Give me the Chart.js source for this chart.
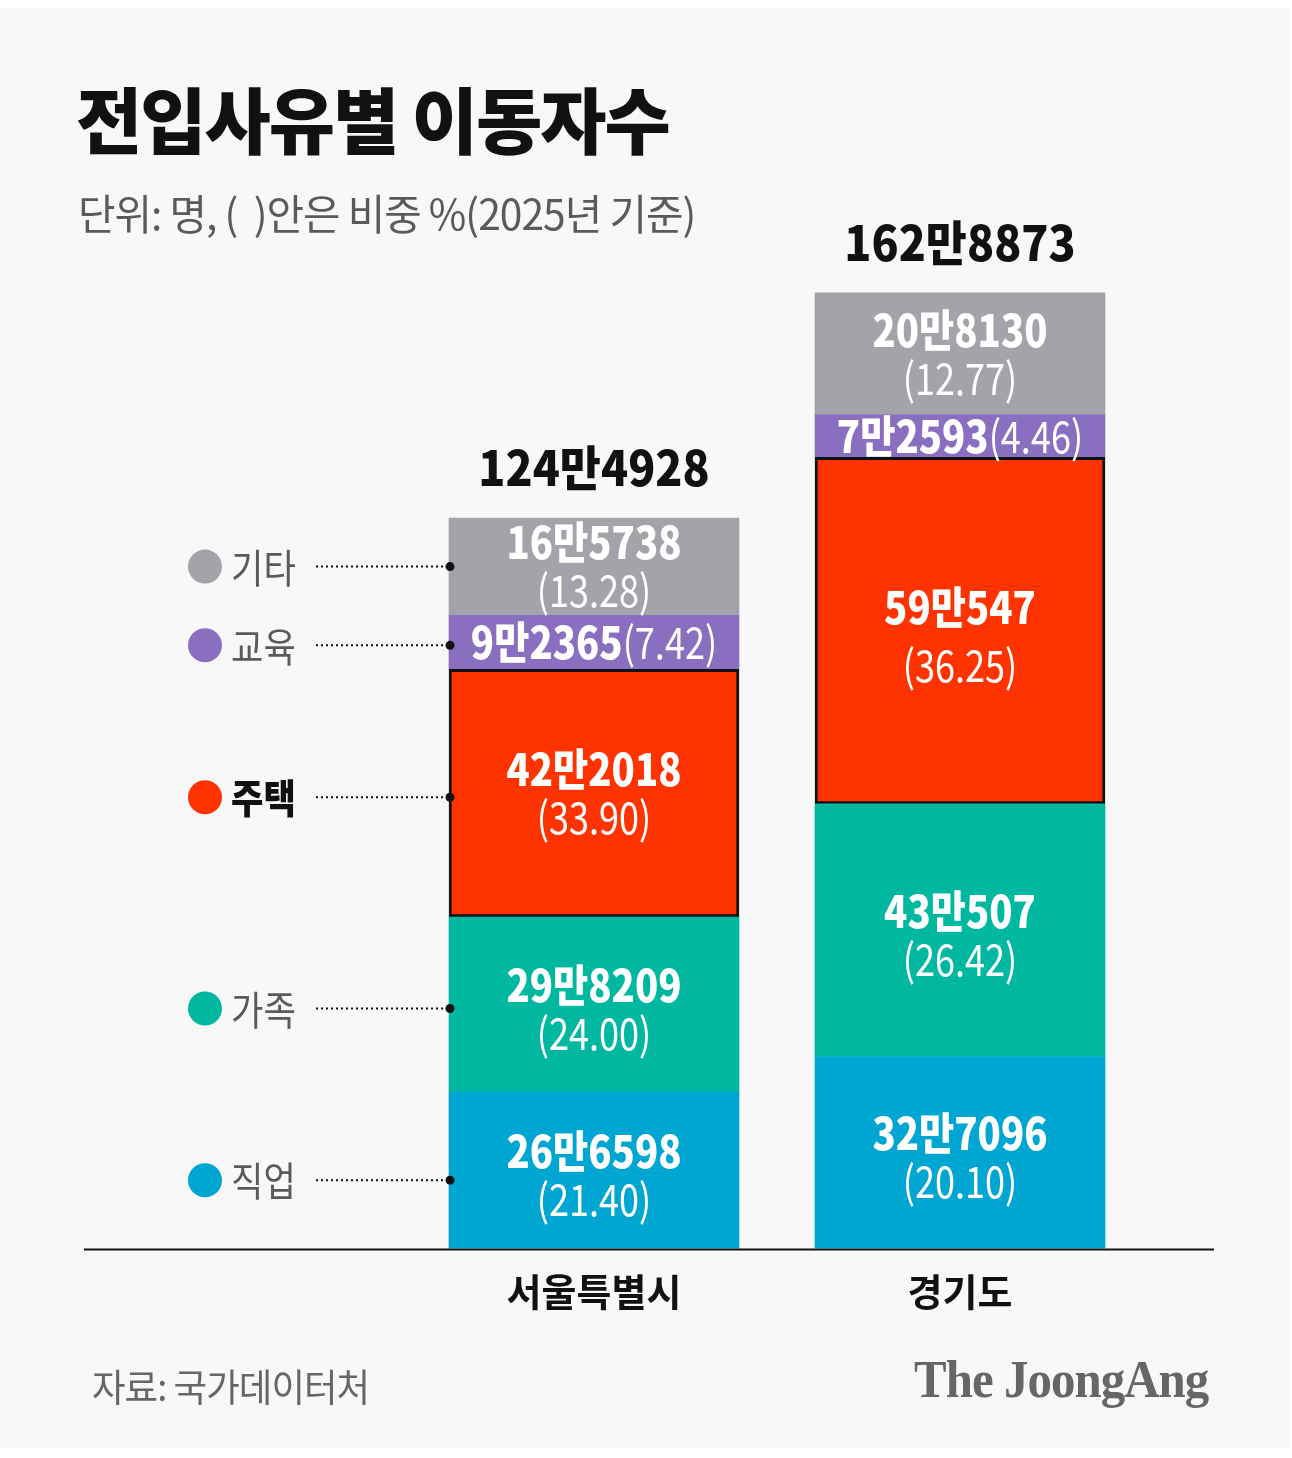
<!DOCTYPE html>
<html>
<head>
<meta charset="utf-8">
<script src="https://cdn.jsdelivr.net/npm/chart.js@4"></script>
<style>
  html, body { margin: 0; padding: 0; background: #ffffff; }
  #wrap { position: relative; width: 1292px; height: 1458px; overflow: hidden; }
  #card { position: absolute; left: 0; top: 8px; width: 1289px; height: 1440px; background: #f8f8f8; }
  #chartBox { position: absolute; left: 0; top: 0; width: 1292px; height: 1458px; }
  .txt { position: absolute; white-space: nowrap; transform-origin: left center; font-family: "Noto Sans CJK KR", "Noto Sans", sans-serif; }
  #title { left: 76px; top: 73px; font-size: 72px; font-weight: 900; color: #111; letter-spacing: -2px; transform: scaleX(1.0); line-height: 88px; }
  #subtitle { left: 78px; top: 187px; font-size: 42px; font-weight: 400; color: #5a5a5a; letter-spacing: -1px; transform: scaleX(0.97); line-height: 50px; }
  #source { left: 92px; top: 1360px; font-size: 38px; font-weight: 400; color: #666; letter-spacing: -1px; transform: scaleX(0.96); line-height: 50px; }
  #logo { left: 914px; top: 1350px; font-family: "Liberation Serif", "DejaVu Serif", serif; font-size: 52px; font-weight: 700; color: #666; letter-spacing: -1px; transform: scaleX(0.94); line-height: 60px; }
</style>
</head>
<body>
<div id="wrap">
  <div id="card"></div>
  <div id="chartBox"><canvas id="c" width="1292" height="1458"></canvas></div>
  <div class="txt" id="title">전입사유별 이동자수</div>
  <div class="txt" id="subtitle">단위: 명, (&nbsp;&nbsp;)안은 비중 %(2025년 기준)</div>
  <div class="txt" id="source">자료: 국가데이터처</div>
  <div class="txt" id="logo">The JoongAng</div>
</div>
<script>
// ---- data ----
const categories = ['서울특별시', '경기도'];
const seriesNames = ['직업', '가족', '주택', '교육', '기타'];
const jobValues = [266598, 327096];
const familyValues = [298209, 430507];
const housingValues = [422018, 590547];
const educationValues = [92365, 72593];
const otherValues = [165738, 208130];
const jobShare = ['21.40', '20.10'];
const familyShare = ['24.00', '26.42'];
const housingShare = ['33.90', '36.25'];
const educationShare = ['7.42', '4.46'];
const otherShare = ['13.28', '12.77'];
const totals = [1244928, 1628873];

// ---- styles ----
const colors = ['#00a6d2', '#00b8a0', '#ff3300', '#8a6ec0', '#a3a3aa'];
const FONT = '"Noto Sans CJK KR", "Noto Sans", sans-serif';
const legendShift = [10, 4, 4, 3, 0];

function man(v) {
  const hi = Math.floor(v / 10000);
  const lo = v % 10000;
  return (hi > 0 ? hi + '만' : '') + (lo > 0 ? String(lo) : '');
}

const valueSets = [jobValues, familyValues, housingValues, educationValues, otherValues];
const shareSets = [jobShare, familyShare, housingShare, educationShare, otherShare];

const datasets = seriesNames.map((name, i) => ({
  label: name,
  data: valueSets[i],
  backgroundColor: colors[i],
  borderColor: i === 2 ? '#111111' : colors[i],
  borderWidth: i === 2 ? 3 : 0,
  borderSkipped: false,
  barThickness: 290,
  shares: shareSets[i]
}));

function drawScaled(ctx, text, x, y, sx) {
  ctx.save();
  ctx.translate(x, y);
  ctx.scale(sx, 1);
  ctx.fillText(text, 0, 0);
  ctx.restore();
}

const decor = {
  id: 'decor',
  afterDatasetsDraw(chart) {
    const ctx = chart.ctx;
    const yScale = chart.scales.y;
    const xScale = chart.scales.x;
    const base = yScale.getPixelForValue(0);

    // baseline
    ctx.save();
    ctx.strokeStyle = '#111';
    ctx.lineWidth = 2;
    ctx.beginPath();
    ctx.moveTo(84, base + 1);
    ctx.lineTo(1214, base + 1);
    ctx.stroke();
    ctx.restore();

    // segment labels
    ctx.save();
    ctx.fillStyle = '#ffffff';
    ctx.textAlign = 'center';
    ctx.textBaseline = 'middle';
    const numFont = '900 44px ' + FONT;
    const pctFont = '400 44px ' + FONT;
    chart.data.datasets.forEach((ds, di) => {
      const meta = chart.getDatasetMeta(di);
      meta.data.forEach((bar, ci) => {
        const top = bar.y, bottom = bar.base;
        const mid = (top + bottom) / 2 + (di < 2 ? 5 : 0);
        const num = man(ds.data[ci]);
        const pct = '(' + ds.shares[ci] + ')';
        if (bottom - top < 70) {
          ctx.font = numFont;
          const w1 = ctx.measureText(num).width * 0.87;
          ctx.font = pctFont;
          const w2 = ctx.measureText(pct).width * 0.82;
          const start = bar.x - (w1 + w2) / 2;
          ctx.textAlign = 'left';
          ctx.font = numFont;
          drawScaled(ctx, num, start, mid, 0.87);
          ctx.font = pctFont;
          drawScaled(ctx, pct, start + w1, mid, 0.82);
          ctx.textAlign = 'center';
        } else {
          const gap = (di === 2 && ci === 1) ? 29 : 24;
          const adj = (di === 2 && ci === 1) ? 6 : 0;
          ctx.font = numFont;
          drawScaled(ctx, num, bar.x, mid - gap + adj, 0.87);
          ctx.font = pctFont;
          drawScaled(ctx, pct, bar.x, mid + gap + adj, 0.82);
        }
      });
    });
    ctx.restore();

    // totals
    ctx.save();
    ctx.fillStyle = '#111';
    ctx.textAlign = 'center';
    ctx.textBaseline = 'middle';
    ctx.font = '900 48px ' + FONT;
    totals.forEach((t, ci) => {
      const topPx = yScale.getPixelForValue(t);
      drawScaled(ctx, man(t), xScale.getPixelForValue(ci), topPx - 50, 0.93);
    });
    ctx.restore();

    // legend at left, linked to first category's segments
    ctx.save();
    chart.data.datasets.forEach((ds, di) => {
      const bar = chart.getDatasetMeta(di).data[0];
      const y = (bar.y + bar.base) / 2 + legendShift[di];
      const left = bar.x - 145;
      ctx.fillStyle = colors[di];
      ctx.beginPath();
      ctx.arc(205, y, 17, 0, Math.PI * 2);
      ctx.fill();
      ctx.fillStyle = di === 2 ? '#111' : '#5a5a5a';
      ctx.font = (di === 2 ? '900 ' : '400 ') + '40px ' + FONT;
      ctx.textAlign = 'left';
      ctx.textBaseline = 'middle';
      drawScaled(ctx, ds.label, 231, y + 1, 0.88);
      ctx.strokeStyle = '#111';
      ctx.lineWidth = 2;
      ctx.setLineDash([2, 3]);
      ctx.beginPath();
      ctx.moveTo(316, y);
      ctx.lineTo(left, y);
      ctx.stroke();
      ctx.setLineDash([]);
      ctx.fillStyle = '#111';
      ctx.beginPath();
      ctx.arc(left + 1, y, 4.5, 0, Math.PI * 2);
      ctx.fill();
    });
    ctx.restore();
  }
};

new Chart(document.getElementById('c'), {
  type: 'bar',
  data: { labels: categories, datasets },
  options: {
    responsive: false,
    animation: false,
    devicePixelRatio: 1,
    layout: { padding: { left: 411, right: 149, top: 251, bottom: 124 } },
    plugins: { legend: { display: false }, tooltip: { enabled: false } },
    scales: {
      x: {
        stacked: true,
        grid: { display: false, drawTicks: false },
        border: { display: false },
        ticks: { color: '#111', font: { family: FONT, size: 38, weight: 'bold' }, padding: 20 }
      },
      y: {
        stacked: true,
        display: false,
        min: 0,
        max: 1700000
      }
    }
  },
  plugins: [decor]
});
</script>
</body>
</html>
